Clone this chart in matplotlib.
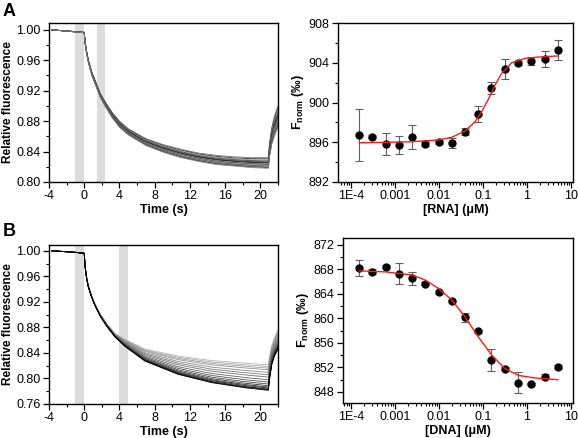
import matplotlib
matplotlib.use("Agg")
import numpy as np
from matplotlib import pyplot as plt
from matplotlib.ticker import MultipleLocator, LogLocator, FixedFormatter, FixedLocator, NullFormatter

plt.rcParams['font.family'] = ['Liberation Sans', 'DejaVu Sans']
plt.rcParams['mathtext.fontset'] = 'custom'
plt.rcParams['mathtext.rm'] = 'Liberation Sans'
plt.rcParams['mathtext.bf'] = 'Liberation Sans:bold'
plt.rcParams['axes.unicode_minus'] = False

# ---- panel A, kinetic traces (envelope) ----
a_time  = [-3.7, -1.0, 0.0, 0.1, 0.3, 0.5, 0.9, 1.3, 1.8, 2.4, 3.2, 4.0, 5.0, 7.0, 9.0, 11.0, 13.0,
           15.0, 17.0, 19.0, 20.9, 21.05, 21.3, 21.6, 22.0]
a_upper = [1.000, 0.9978, 0.9968, 0.984, 0.970, 0.959, 0.943, 0.932, 0.917, 0.905, 0.891, 0.880, 0.870,
           0.857, 0.849, 0.843, 0.838, 0.835, 0.833, 0.832, 0.832, 0.852, 0.872, 0.887, 0.900]
a_lower = [1.000, 0.9972, 0.9962, 0.982, 0.967, 0.956, 0.939, 0.927, 0.912, 0.899, 0.884, 0.872, 0.862,
           0.848, 0.839, 0.832, 0.827, 0.823, 0.821, 0.819, 0.818, 0.834, 0.850, 0.861, 0.872]
a_end   = [0.832, 0.8305, 0.829, 0.8275, 0.827, 0.8265, 0.826, 0.8255, 0.825, 0.824, 0.823,
           0.822, 0.821, 0.820, 0.819, 0.818]
a_grey  = [0.45, 0.2, 0.55, 0.1, 0.35, 0.6, 0.15, 0.4, 0.05, 0.5, 0.25, 0.55, 0.3, 0.45, 0.2, 0.5]

# ---- panel B, kinetic traces ----
b_time  = [-3.7, -1.0, 0.0, 0.1, 0.28, 0.47, 0.85, 1.23, 1.8, 2.55, 3.5, 4.64, 6.9, 10.7, 14.5,
           18.3, 20.9, 21.05, 21.3, 21.6, 22.0]
b_upper = [1.000, 0.9975, 0.996, 0.975, 0.958, 0.945, 0.929, 0.916, 0.901, 0.886, 0.870, 0.861,
           0.846, 0.835, 0.828, 0.824, 0.8214, 0.835, 0.852, 0.864, 0.876]
b_lower = [1.000, 0.9975, 0.996, 0.975, 0.956, 0.943, 0.927, 0.914, 0.898, 0.882, 0.865, 0.850,
           0.827, 0.806, 0.793, 0.785, 0.781, 0.800, 0.822, 0.835, 0.846]
b_end   = [0.8214, 0.8188, 0.8162, 0.8136, 0.8095, 0.8058, 0.8022, 0.798, 0.7944, 0.7913,
           0.7887, 0.7866, 0.785, 0.7834, 0.7824, 0.7814]

# ---- MST dose response ----
conc = [1.53e-4, 3.05e-4, 6.1e-4, 1.22e-3, 2.44e-3, 4.88e-3, 9.77e-3, 0.0195, 0.0391,
        0.0781, 0.156, 0.3125, 0.625, 1.25, 2.5, 5.0]
rna     = [896.76, 896.53, 895.83, 895.72, 896.53, 895.86, 895.99, 895.96, 897.07, 898.85,
           901.46, 903.34, 903.95, 904.18, 904.38, 905.29]
rna_err = [2.6, 0.15, 1.07, 0.92, 1.16, 0.2, 0.15, 0.5, 0.35, 0.84, 0.6, 1.0, 0.2, 0.4, 0.8, 1.0]
dna     = [868.18, 867.58, 868.45, 867.3, 866.55, 865.67, 864.25, 862.84, 860.16, 857.87,
           853.18, 851.82, 849.53, 849.31, 850.51, 852.04]
dna_err = [1.34, 0.4, 0.3, 1.7, 1.06, 0.3, 0.2, 0.2, 0.7, 0.2, 1.77, 0.2, 1.7, 0.2, 0.46, 0.3]

# fit curves (log10 of conc)
rna_fit_logx = [-3.81, -3.227, -2.62, -2.015, -1.71, -1.41, -1.18, -1.03, -0.88, -0.727,
                -0.575, -0.35, -0.045, 0.333, 0.70]
rna_fit_y    = [895.95, 895.99, 896.05, 896.23, 896.5, 897.13, 898.07, 899.08, 900.32, 901.76,
                902.93, 904.0, 904.44, 904.6, 904.68]
dna_fit_logx = [-3.81, -3.227, -2.62, -2.318, -2.015, -1.71, -1.41, -1.107, -0.80, -0.5,
                -0.197, 0.18, 0.70]
dna_fit_y    = [867.74, 867.58, 867.09, 866.27, 864.9, 863.0, 860.27, 856.99, 854.0, 851.8,
                850.7, 850.28, 850.0]

W, H = 578, 438
fig = plt.figure(figsize=(W / 100, H / 100), dpi=100)

def box(x0, y0, x1, y1):
    return [x0 / W, 1 - y1 / H, (x1 - x0) / W, (y1 - y0) / H]

def style(ax):
    for s in ax.spines.values():
        s.set_linewidth(1.0)
    ax.tick_params(which='major', direction='out', length=4, width=0.9, labelsize=9, pad=2)
    ax.tick_params(which='minor', direction='out', length=2, width=0.8)
    ax.tick_params(top=False, right=False, which='both')

def kinetic(ax, t, upper, lower, ends, greys, bands, ylo, yticks):
    t = np.array(t); upper = np.array(upper); lower = np.array(lower)
    for b0, b1 in bands:
        ax.axvspan(b0, b1, color='#dcdcdc', lw=0, zorder=0)
    for e, g in zip(ends, greys):
        f = (e - lower[t == 20.9][0]) / (upper[t == 20.9][0] - lower[t == 20.9][0])
        ax.plot(t, lower + f * (upper - lower), color=str(g), lw=0.6)
    ax.set_xlim(-4, 22)
    ax.set_ylim(ylo, 1.009)
    ax.xaxis.set_major_locator(MultipleLocator(4))
    ax.xaxis.set_minor_locator(MultipleLocator(2))
    ax.set_yticks(yticks)
    ax.set_yticklabels(['%.2f' % v for v in yticks])
    ax.yaxis.set_minor_locator(MultipleLocator(0.02))
    ax.set_xlabel('Time (s)', fontweight='bold', fontsize=9, labelpad=1)
    ax.set_ylabel('Relative fluorescence', fontweight='bold', fontsize=8.5, labelpad=2)
    style(ax)

def dose(ax, y, err, fx, fy, xlo, ylim, step, xlabel):
    ax.errorbar(conc, y, yerr=err, fmt='o', color='black', ms=5, ecolor='#606060',
                elinewidth=0.8, capsize=3, capthick=0.8, zorder=3)
    ax.plot(10 ** np.array(fx), fy, color='#ff1a1a', lw=1.0, zorder=4)
    ax.set_xscale('log')
    ax.set_xlim(xlo, 11.1)
    ax.set_ylim(*ylim)
    ax.xaxis.set_major_locator(FixedLocator([1e-4, 1e-3, 1e-2, 1e-1, 1, 10]))
    ax.xaxis.set_major_formatter(FixedFormatter(['1E-4', '0.001', '0.01', '0.1', '1', '10']))
    ax.xaxis.set_minor_locator(LogLocator(base=10, subs=np.arange(2, 10)))
    ax.xaxis.set_minor_formatter(NullFormatter())
    ax.yaxis.set_major_locator(MultipleLocator(step))
    ax.yaxis.set_minor_locator(MultipleLocator(step / 2))
    ax.set_xlabel(xlabel, fontweight='bold', fontsize=9, labelpad=1)
    ax.set_ylabel(r'$\mathbf{F_{norm}}$ (‰)', fontweight='bold', fontsize=9, labelpad=2)
    style(ax)

ax1 = fig.add_axes(box(49, 23, 278, 182))
kinetic(ax1, a_time, a_upper, a_lower, a_end, a_grey, [(-1, 0), (1.5, 2.4)], 0.80,
        [0.80, 0.84, 0.88, 0.92, 0.96, 1.00])

ax2 = fig.add_axes(box(338, 23, 573, 182))
dose(ax2, rna, rna_err, rna_fit_logx, rna_fit_y, 5.07e-5, (892, 908), 4, '[RNA] (μM)')

b_grey = np.linspace(0.72, 0.0, len(b_end))
ax3 = fig.add_axes(box(49, 245, 278, 404))
kinetic(ax3, b_time, b_upper, b_lower, b_end, b_grey, [(-1, 0), (4, 5)], 0.76,
        [0.76, 0.80, 0.84, 0.88, 0.92, 0.96, 1.00])

ax4 = fig.add_axes(box(343, 238, 573, 403))
dose(ax4, dna, dna_err, dna_fit_logx, dna_fit_y, 6.6e-5, (846.2, 873.1), 4, '[DNA] (μM)')
ax4.set_ylim(846.2, 873.1)
ax4.set_yticks([848, 852, 856, 860, 864, 868, 872])

fig.text(3 / W, 1 - 16 / H, 'A', fontsize=13, fontweight='bold')
fig.text(3 / W, 1 - 236 / H, 'B', fontsize=13, fontweight='bold')

fig.savefig('out.png', dpi=100)
